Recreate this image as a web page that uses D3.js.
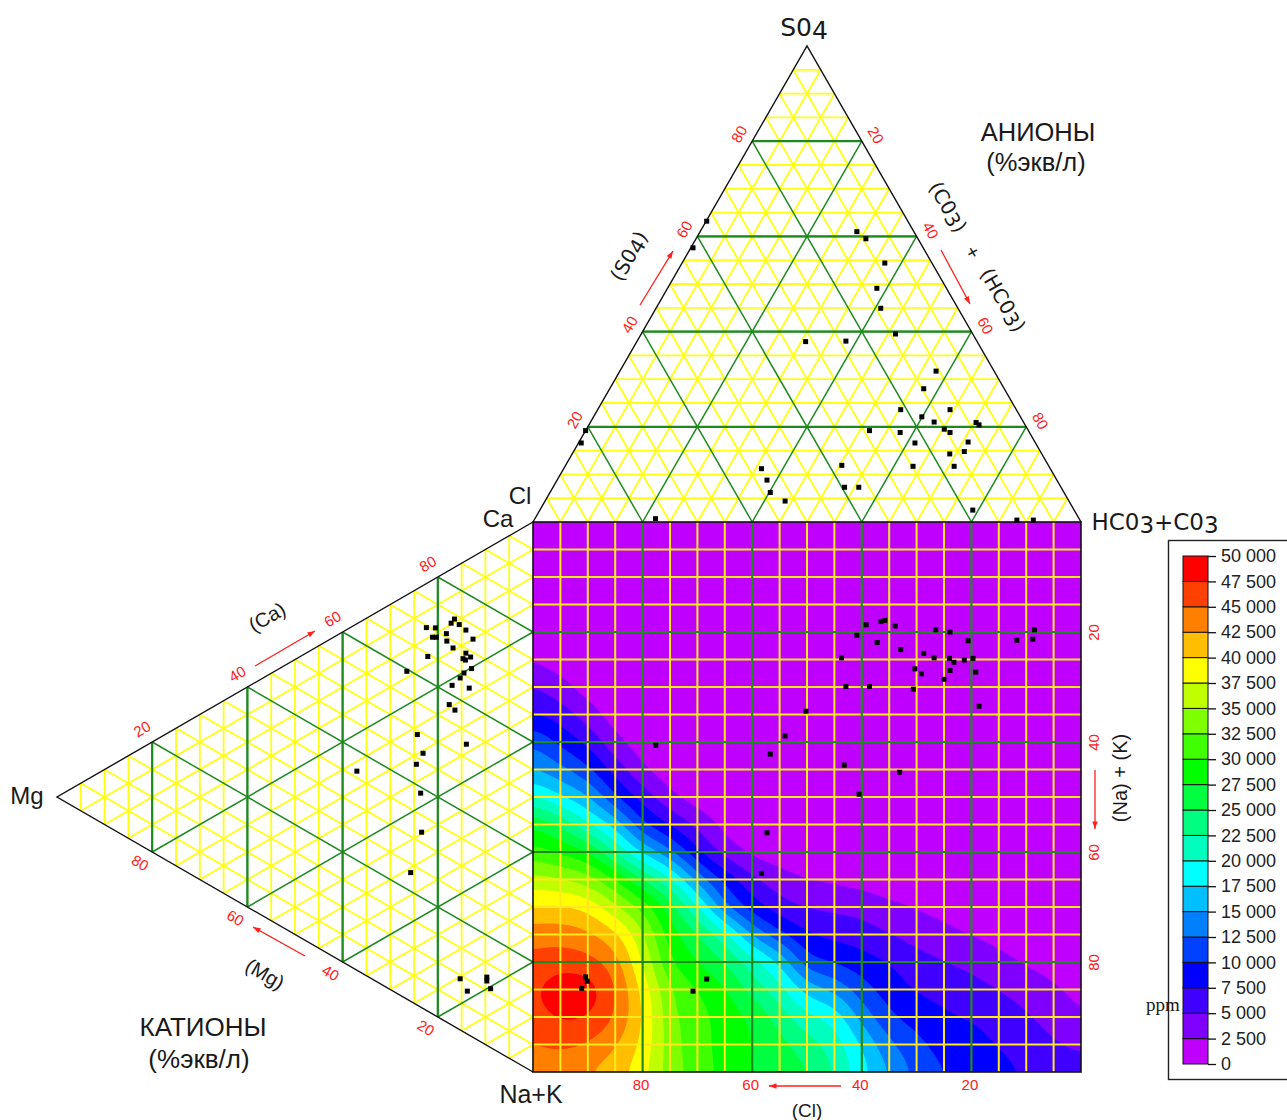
<!DOCTYPE html>
<html>
<head>
<meta charset="utf-8">
<script src="https://cdn.jsdelivr.net/npm/d3@7"></script>
<style>
    html, body { margin: 0; padding: 0; background: #fff; }
    svg { display: block; }
    text { font-family: "Liberation Sans", Arial, sans-serif; }
</style>
</head>
<body>
<script>
// anions triangle, %
const anionSO4 = [63.2, 57.6, 61, 59.5, 54.4, 49.1, 44.9, 37.9, 38, 39.5, 31.7, 28, 23.6, 23.6, 22.1, 21, 20.9, 20.4, 19.5, 18.8, 19.2, 18.8, 16.6, 16.8, 14.8, 14.3, 11.7, 11.7, 11.9, 11.2, 8.8, 6.2, 4.4, 7.3, 7.3, 2.5, 0.7, 0.4, 0.4, 19.2, 16.6];
const anionHCO3 = [0.1, 0.4, 28.6, 31, 37, 38.2, 41, 30.8, 38.1, 46.4, 57.7, 57.3, 55.3, 64.3, 59.9, 62.7, 70.4, 71.2, 65.3, 66.7, 51.8, 57.6, 61.4, 71, 71.3, 68.9, 63.5, 71, 50.4, 36.1, 38.3, 40.2, 43.8, 53.2, 55.8, 79, 22, 88.1, 91.1, 0, 0.5];

// cations triangle
const cationMg = [22.4, 20.5, 21.1, 20.3, 18.2, 18.1, 16.5, 17.2, 15.5, 14.1, 12.6, 16.8, 14.1, 14.7, 14.2, 13.1, 22.1, 26.5, 14.5, 12.9, 15.3, 17, 13.4, 17.6, 16.4, 24.3, 23.1, 14, 24.5, 37, 23.6, 23.4, 25.7, 15.3, 9.7, 9.7, 13.8, 8.9];
const cationNa = [8, 9, 10.4, 10.8, 11.2, 12.6, 9.4, 9.8, 10.9, 12.6, 15, 14.5, 16.8, 17.5, 18, 18, 13.4, 13.9, 20.2, 20.2, 20.7, 21.2, 23.5, 24.4, 26, 26.5, 30.5, 33.4, 31.8, 26.8, 37.5, 44.7, 50.9, 75.4, 77.9, 78.6, 78.4, 80.4];

// diamond (square) points
const squareCl = [39.2, 36.5, 35.8, 33.9, 40.9, 37.2, 32.9, 26.5, 23.9, 20.6, 8.5, 8.8, 11.7, 43.7, 28.7, 26.8, 24, 23.2, 21.3, 19.7, 30.3, 29.1, 23.9, 19.2, 25, 42.9, 38.6, 30.6, 18.6, 50.2, 54, 77.6, 56.7, 43.2, 33.1, 40.5, 57.3, 58.3, 90.4, 90.1, 91.1, 68.3, 70.8];
const squareNa = [18.7, 18.1, 17.9, 18.9, 20.6, 21.9, 23.2, 19.6, 20, 21.6, 19.6, 21.3, 21.5, 24.7, 23.9, 24.7, 24.8, 25.5, 25.1, 24.8, 26.7, 27.6, 27, 27.3, 28.6, 29.9, 29.9, 30.4, 33.5, 34.4, 38.9, 40.6, 42.2, 44.2, 45.5, 49.5, 56.5, 63.9, 82.7, 83.5, 84.8, 83.1, 85.3];

// ppm field in thousands, one row per 5% of Na+K, one column per 5% going from Cl=100 to Cl=0
const ppmRows = [
    [1, 1, 1, 1, 1, 1, 1, 1, 1, 1, 1, 1, 1, 1, 1, 1, 1, 1, 1, 1, 1],
    [1, 1, 1, 1, 1, 1, 1, 1, 1, 1, 1, 1, 1, 1, 1, 1, 1, 1, 1, 1, 1],
    [1, 1, 1, 1, 1, 1, 1, 1, 1, 1, 1, 1, 1, 1, 1, 1, 1, 1, 1, 1, 1],
    [1, 1, 1, 1, 1, 1, 1, 1, 1, 1, 1, 1, 1, 1, 1, 1, 1, 1, 1, 1, 1],
    [1, 1, 1, 1, 1, 1, 1, 1, 1, 1, 1, 1, 1, 1, 1, 1, 1, 1, 1, 1, 1],
    [2.2, 1, 1, 1, 1, 1, 1, 1, 1, 1, 1, 1, 1, 1, 1, 1, 1, 1, 1, 1, 1],
    [5.3, 3.4, 1, 1, 1, 1, 1, 1, 1, 1, 1, 1, 1, 1, 1, 1, 1, 1, 1, 1, 1],
    [7.5, 6.5, 3.7, 1, 1, 1, 1, 1, 1, 1, 1, 1, 1, 1, 1, 1, 1, 1, 1, 1, 1],
    [12.5, 9.2, 7, 3, 1, 1, 1, 1, 1, 1, 1, 1, 1, 1, 1, 1, 1, 1, 1, 1, 1],
    [15, 13.3, 10.5, 6.5, 2.5, 1, 1, 1, 1, 1, 1, 1, 1, 1, 1, 1, 1, 1, 1, 1, 1],
    [20.5, 17.5, 15.5, 10, 6.5, 2.7, 1, 1, 1, 1, 1, 1, 1, 1, 1, 1, 1, 1, 1, 1, 1],
    [27.5, 25, 20, 17, 10, 7.4, 4.2, 1.5, 1, 1, 1, 1, 1, 1, 1, 1, 1, 1, 1, 1, 1],
    [31, 29.5, 28, 22, 17, 13, 7.8, 3.6, 1.5, 1, 1, 1, 1, 1, 1, 1, 1, 1, 1, 1, 1],
    [36, 35.3, 33.8, 30.5, 25, 21, 14, 9.5, 5.6, 3.5, 2.3, 2, 1.5, 1, 1, 1, 1, 1, 1, 1, 1],
    [40.2, 40.5, 39.6, 35.5, 32, 26.5, 20.5, 12.5, 8.5, 5.8, 4.8, 4.5, 4, 3, 2.3, 1.6, 1, 1, 1, 1, 1],
    [44, 44, 43.2, 41, 35.8, 28.5, 25.5, 21.5, 14.5, 10.5, 7.6, 6.8, 6.3, 5, 4, 3.2, 2.3, 1.7, 1, 1, 1],
    [45.8, 46.5, 46, 44, 37.3, 30, 27.5, 25, 21.5, 17.5, 10.5, 9.7, 8.5, 7.5, 6, 5.1, 4.3, 3.2, 2.2, 1.6, 1],
    [47, 49.5, 49.3, 45.5, 39.4, 32.5, 30, 28, 24, 21, 16.5, 14.5, 11, 8.7, 7.2, 6.7, 6, 5, 3.8, 2.8, 1.8],
    [46.5, 48, 47.8, 45, 40.2, 33, 31, 29, 27.4, 24, 20.5, 19.5, 14, 10.3, 8.9, 7.8, 7.3, 6.5, 5.4, 4, 2.5],
    [45, 45.5, 44.8, 42.8, 39.6, 33.5, 31, 29, 27.5, 26, 23.7, 21.5, 17.5, 13, 10.7, 9, 8.5, 7.3, 6.3, 5.3, 4.5],
    [43, 43.5, 42.5, 41, 38.5, 33.5, 31.5, 29, 27.5, 26.5, 25.5, 22.5, 18.5, 15, 11.8, 10, 9.3, 8.5, 7.2, 6.5, 6]
];

// bands, from 0-2500 up to 47500-50000
const bandColors = ["#bf00ff", "#7f00ff", "#4000ff", "#0000ff", "#0040ff", "#0080ff", "#00bfff", "#00ffff", "#00ffbf", "#00ff80", "#00ff40", "#00ff00", "#40ff00", "#80ff00", "#bfff00", "#ffff00", "#ffbf00", "#ff8000", "#ff4000", "#ff0000"];
const legendTicks = d3.range(0, 50001, 2500);
const ticks = [20, 40, 60, 80];
const minorSteps = d3.range(5, 100, 5).filter(d => d % 20 !== 0);

const width = 1287;
const height = 1120;

const svg = d3.select("body").append("svg").attr("width", width).attr("height", height);

const xBase = d3.scaleLinear([0, 100], [533, 1081]);
const yTop = d3.scaleLinear([0, 100], [522, 46]);
const xLeft = d3.scaleLinear([0, 100], [533, 57]);
const ySide = d3.scaleLinear([0, 100], [522, 1072]);

const topPos = (s, h) => [xBase(h + s / 2), yTop(s)];
const leftPos = (m, n) => [xLeft(m), ySide(n + m / 2)];
const squarePos = (cl, na) => [xBase(100 - cl), ySide(na)];

const YELLOW = "#ffff14";
const SQUARE_YELLOW = "#ffe81e";
const GREEN = "#1e8a1e";
const RED = "#ff2020";

// contour field, upsampled a bit so the bands come out round
const SUB = 4;
const nCols = ppmRows[0].length;
const nRows = ppmRows.length;
const fineW = (nCols - 1) * SUB + 1;
const fineH = (nRows - 1) * SUB + 1;
const fine = new Float64Array(fineW * fineH);
for (let j = 0; j < fineH; j++) {
    for (let i = 0; i < fineW; i++) {
        const c = Math.min(Math.floor(i / SUB), nCols - 2);
        const r = Math.min(Math.floor(j / SUB), nRows - 2);
        const fx = i / SUB - c;
        const fy = j / SUB - r;
        fine[j * fineW + i] = (1 - fy) * ((1 - fx) * ppmRows[r][c] + fx * ppmRows[r][c + 1]) +
            fy * ((1 - fx) * ppmRows[r + 1][c] + fx * ppmRows[r + 1][c + 1]);
    }
}
d3.blur2({ data: fine, width: fineW, height: fineH }, 1);

const thresholds = bandColors.map((d, i) => i * 2.5);
const contours = d3.contours().size([fineW, fineH]).thresholds(thresholds)(fine);

const xFine = d3.scaleLinear([0.5, fineW - 0.5], [533, 1081]);
const yFine = d3.scaleLinear([0.5, fineH - 0.5], [522, 1072]);
const contourPath = d3.geoPath(d3.geoTransform({
    point(x, y) { this.stream.point(xFine(x), yFine(y)); }
}));

svg.append("clipPath").attr("id", "square-clip").append("rect")
    .attr("x", 533).attr("y", 522).attr("width", 548).attr("height", 550);

svg.append("rect").attr("x", 533).attr("y", 522).attr("width", 548).attr("height", 550).attr("fill", bandColors[0]);
svg.append("g").attr("clip-path", "url(#square-clip)")
    .selectAll("path")
    .data(contours)
    .join("path")
    .attr("d", contourPath)
    .attr("fill", (d, i) => bandColors[i]);

function gridLines(g, lines, color, w) {
    g.append("g").selectAll("line")
        .data(lines)
        .join("line")
        .attr("x1", d => d[0][0]).attr("y1", d => d[0][1])
        .attr("x2", d => d[1][0]).attr("y2", d => d[1][1])
        .attr("stroke", color)
        .attr("stroke-width", w);
}

// first line of each is the one running along the pixel grid (thicker in the picture)
const topLines = p => [
    [topPos(p, 0), topPos(p, 100 - p)],
    [topPos(0, p), topPos(100 - p, p)],
    [topPos(0, 100 - p), topPos(100 - p, 0)]
];
const leftLines = p => [
    [leftPos(p, 0), leftPos(p, 100 - p)],
    [leftPos(0, p), leftPos(100 - p, p)],
    [leftPos(0, 100 - p), leftPos(100 - p, 0)]
];
const squareLines = p => [
    [squarePos(p, 0), squarePos(p, 100)],
    [squarePos(0, p), squarePos(100, p)]
];

const grid = svg.append("g");
gridLines(grid, minorSteps.flatMap(topLines).concat(minorSteps.flatMap(leftLines)), YELLOW, 1.8);
gridLines(grid, minorSteps.flatMap(squareLines), SQUARE_YELLOW, 2);
gridLines(grid, ticks.flatMap(topLines).concat(ticks.flatMap(leftLines)), GREEN, 1.5);
gridLines(grid, ticks.map(p => topLines(p)[0]).concat(ticks.map(p => leftLines(p)[0])), GREEN, 2.2);
gridLines(grid, ticks.flatMap(squareLines), GREEN, 2.2);

// outlines
const outline = d3.line();
svg.append("path")
    .attr("d", outline([topPos(0, 0), topPos(100, 0), topPos(0, 100)]))
    .attr("fill", "none").attr("stroke", "#111").attr("stroke-width", 1.4);
svg.append("path")
    .attr("d", outline([leftPos(0, 0), leftPos(100, 0), leftPos(0, 100)]))
    .attr("fill", "none").attr("stroke", "#111").attr("stroke-width", 1.4);
svg.append("rect").attr("x", 533).attr("y", 522).attr("width", 548).attr("height", 550)
    .attr("fill", "none").attr("stroke", "#111").attr("stroke-width", 1.6);

// samples
const samples = [
    ...anionSO4.map((d, i) => topPos(d, anionHCO3[i])),
    ...cationMg.map((d, i) => leftPos(d, cationNa[i])),
    ...squareCl.map((d, i) => squarePos(d, squareNa[i]))
];
svg.append("g").selectAll("rect")
    .data(samples)
    .join("rect")
    .attr("x", d => d[0] - 2.5).attr("y", d => d[1] - 2.5)
    .attr("width", 5).attr("height", 5)
    .attr("fill", "#000");

// red tick labels
function tickLabel(x, y, rot, txt) {
    svg.append("text")
        .attr("transform", `translate(${x},${y}) rotate(${rot})`)
        .attr("text-anchor", "middle").attr("dy", "0.35em")
        .attr("font-size", 15).attr("fill", RED)
        .text(txt);
}
ticks.forEach(t => {
    let p = topPos(t, 0);
    tickLabel(p[0] - 13, p[1] - 7, -60, t);
    p = topPos(100 - t, t);
    tickLabel(p[0] + 14, p[1] - 6, 60, t);
    p = leftPos(100 - t, 0);
    tickLabel(p[0] - 10, p[1] - 13, -30, t);
    p = leftPos(t, 100 - t);
    tickLabel(p[0] - 12, p[1] + 11, 30, t);
});

// square axes, red numbers only
const axisRed = g => {
    g.select(".domain").remove();
    g.selectAll(".tick line").remove();
    g.selectAll("text").attr("fill", RED).attr("font-size", 15).attr("font-family", null);
};
svg.append("g").attr("transform", "translate(-2,1077)")
    .call(d3.axisBottom(d3.scaleLinear([100, 0], [533, 1081])).tickValues(ticks).tickSize(0).tickPadding(2))
    .call(axisRed);
svg.append("g").attr("transform", "translate(1093,0)")
    .call(d3.axisRight(ySide).tickValues(ticks).tickSize(0).tickPadding(0))
    .call(axisRed)
    .call(g => g.selectAll("text")
        .attr("x", null).attr("dy", null).attr("text-anchor", "middle").attr("dominant-baseline", "central")
        .attr("transform", "rotate(-90)"));

// arrows
function arrow(x1, y1, x2, y2) {
    svg.append("line").attr("x1", x1).attr("y1", y1).attr("x2", x2).attr("y2", y2)
        .attr("stroke", RED).attr("stroke-width", 1.3);
    const a = Math.atan2(y2 - y1, x2 - x1);
    const pts = [[x2, y2],
        [x2 - 8 * Math.cos(a - 0.35), y2 - 8 * Math.sin(a - 0.35)],
        [x2 - 8 * Math.cos(a + 0.35), y2 - 8 * Math.sin(a + 0.35)]];
    svg.append("polygon").attr("points", pts.join(" ")).attr("fill", RED);
}
arrow(640, 305, 673, 251);
arrow(941, 250, 970, 304);
arrow(255, 666, 315, 631);
arrow(305, 956, 253, 927);
arrow(1095, 770, 1095, 829);
arrow(841, 1086, 769, 1086);

// text labels
const CHEM = '"DejaVu Sans", sans-serif';
function label(x, y, txt, size, rot, family) {
    const t = svg.append("text")
        .attr("transform", `translate(${x},${y}) rotate(${rot || 0})`)
        .attr("text-anchor", "middle").attr("dominant-baseline", "central")
        .attr("font-size", size).attr("fill", "#1a1a1a");
    if (family) t.style("font-family", family);
    // digit after the letters sits a little lower, as in the original labels
    txt.split(/(\d)/).filter(d => d !== "").forEach(part => {
        const low = /\d/.test(part) && family;
        const ts = t.append("tspan").text(part);
        if (low) ts.attr("dy", part === "0" ? 0 : "0.12em");
        else if (family && t.selectAll("tspan").size() > 1) ts.attr("dy", "-0.12em");
    });
    return t;
}
label(804, 27, "S04", 25, 0, CHEM);
label(1155, 522, "HC03+C03", 23, 0, CHEM);
label(520, 495, "Cl", 24);
label(498, 518, "Ca", 24);
label(531, 1094, "Na+K", 25);
label(27, 795, "Mg", 24);
label(1038, 132, "АНИОНЫ", 25.5);
label(1036, 162, "(%экв/л)", 25.5);
label(203, 1027, "КАТИОНЫ", 26);
label(199, 1059, "(%экв/л)", 26);
label(267, 617, "(Ca)", 20, -30);
label(265, 974, "(Mg)", 20, 30);
label(629, 256, "(S04)", 20, -60, CHEM);
label(948, 207, "(C03)", 20, 60, CHEM);
label(973, 252, "+", 20, 60);
label(1003, 300, "(HC03)", 20, 60, CHEM);
label(1120, 778, "(Na) + (K)", 20, -90);
label(807, 1110, "(Cl)", 19);
label(1163, 1004, "ppm", 19).style("font-family", '"Liberation Serif", serif');

// legend
svg.append("rect").attr("x", 1168.5).attr("y", 540.5).attr("width", 130).attr("height", 539)
    .attr("fill", "none").attr("stroke", "#222").attr("stroke-width", 1.4);

const yLegend = d3.scaleLinear([0, 50000], [1064, 556]);
const fmt = d3.formatLocale({ decimal: ".", thousands: " ", grouping: [3], currency: ["", ""] }).format(",");
svg.append("g").selectAll("rect")
    .data(bandColors)
    .join("rect")
    .attr("x", 1183).attr("width", 25)
    .attr("y", (d, i) => yLegend((i + 1) * 2500))
    .attr("height", (d, i) => yLegend(i * 2500) - yLegend((i + 1) * 2500))
    .attr("fill", d => d)
    .attr("stroke", "#111").attr("stroke-width", 1);
svg.append("g").attr("transform", "translate(1208,0)")
    .call(d3.axisRight(yLegend).tickValues(legendTicks).tickFormat(fmt).tickSize(8).tickPadding(5))
    .call(g => g.select(".domain").remove())
    .call(g => g.selectAll(".tick line").attr("stroke", "#111").attr("stroke-width", 1.3))
    .call(g => g.selectAll("text").attr("font-size", 18).attr("font-family", null).attr("fill", "#222"));
</script>
</body>
</html>
